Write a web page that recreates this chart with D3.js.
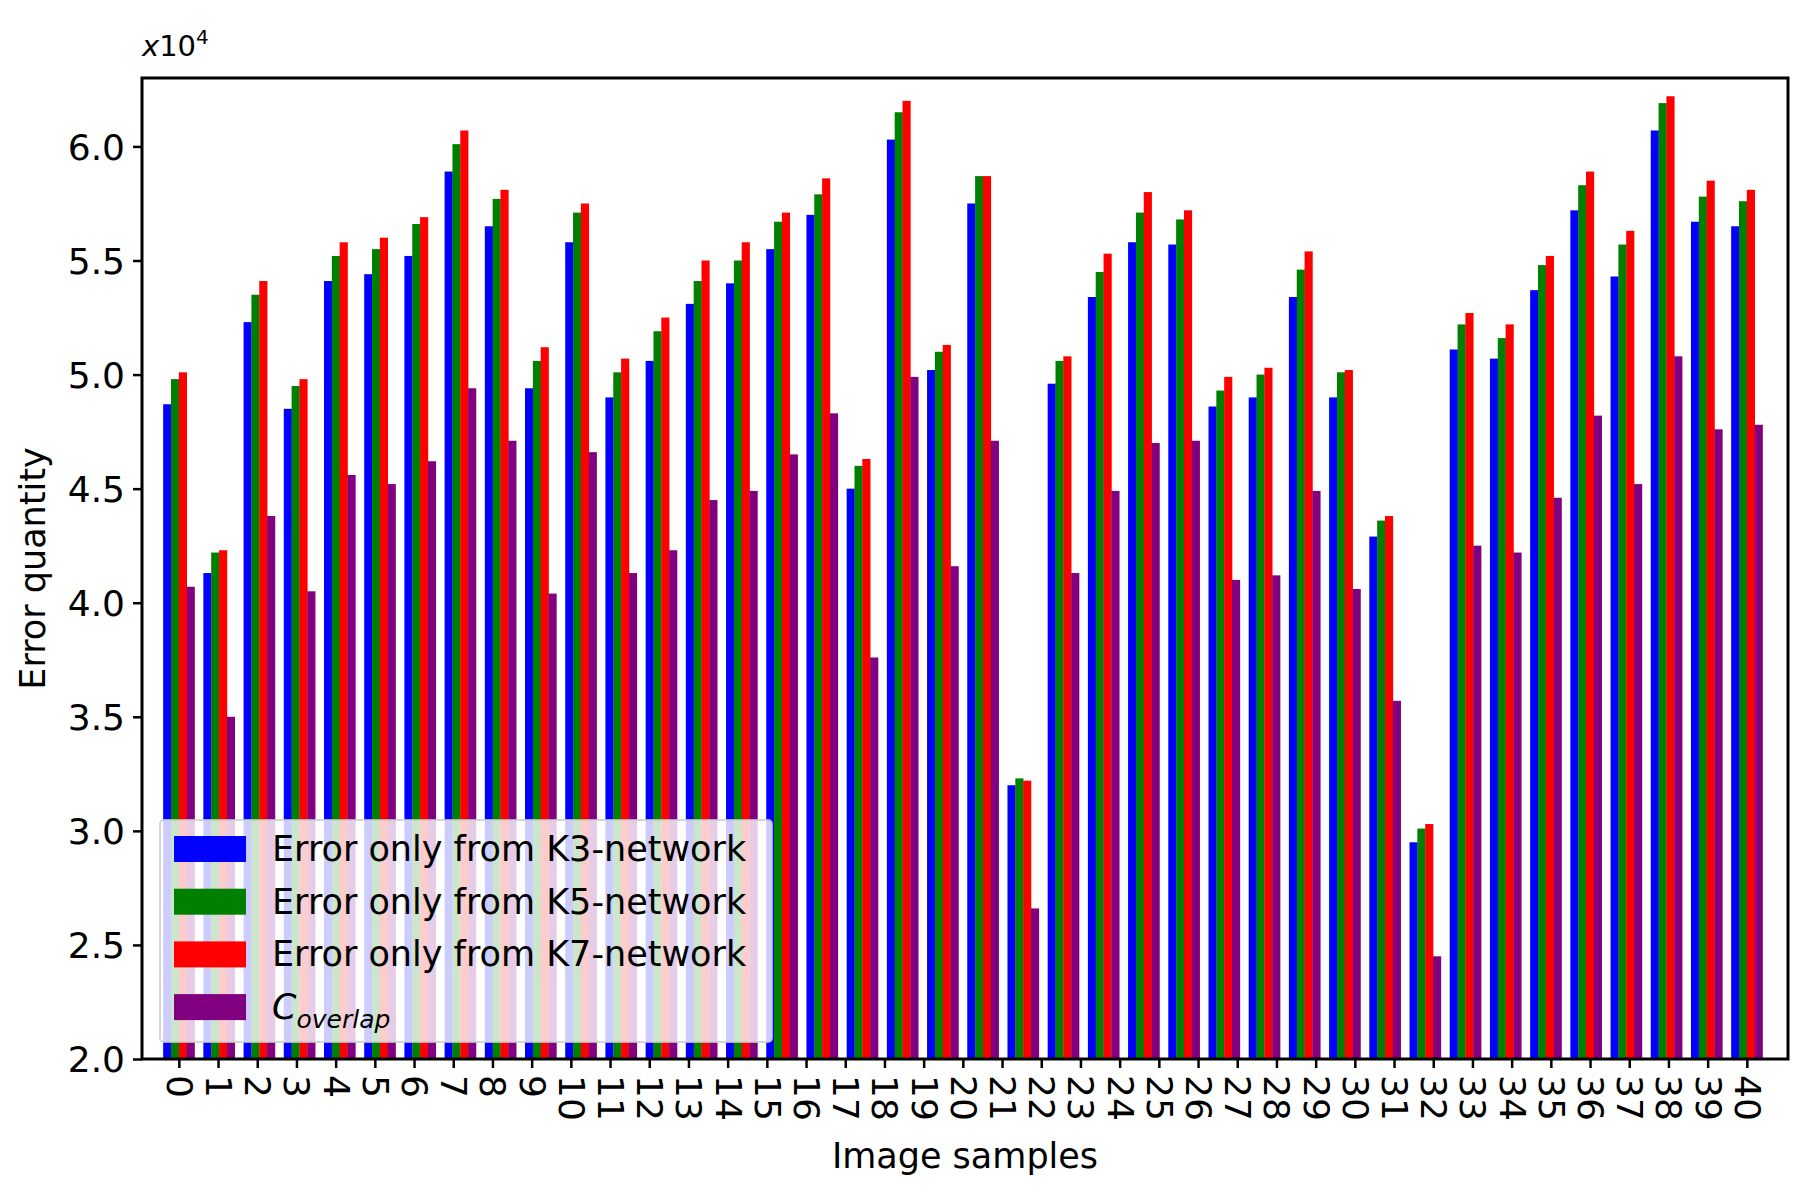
<!DOCTYPE html>
<html><head><meta charset="utf-8">
<script src="https://cdn.jsdelivr.net/npm/d3@7"></script>
<style>body{margin:0;background:#fff}svg{font-family:"DejaVu Sans",sans-serif}</style>
</head><body><svg id="c" width="1812" height="1192"></svg>
<script>
const tickLabels = d3.range(41).map(String);
const k3 = [4.87,4.13,5.23,4.85,5.41,5.44,5.52,5.89,5.65,4.94,5.58,4.90,5.06,5.31,5.40,5.55,5.70,4.50,6.03,5.02,5.75,3.20,4.96,5.34,5.58,5.57,4.86,4.90,5.34,4.90,4.29,2.95,5.11,5.07,5.37,5.72,5.43,6.07,5.67,5.65];
const k5 = [4.98,4.22,5.35,4.95,5.52,5.55,5.66,6.01,5.77,5.06,5.71,5.01,5.19,5.41,5.50,5.67,5.79,4.60,6.15,5.10,5.87,3.23,5.06,5.45,5.71,5.68,4.93,5.00,5.46,5.01,4.36,3.01,5.22,5.16,5.48,5.83,5.57,6.19,5.78,5.76];
const k7 = [5.01,4.23,5.41,4.98,5.58,5.60,5.69,6.07,5.81,5.12,5.75,5.07,5.25,5.50,5.58,5.71,5.86,4.63,6.20,5.13,5.87,3.22,5.08,5.53,5.80,5.72,4.99,5.03,5.54,5.02,4.38,3.03,5.27,5.22,5.52,5.89,5.63,6.22,5.85,5.81];
const overlap = [4.07,3.50,4.38,4.05,4.56,4.52,4.62,4.94,4.71,4.04,4.66,4.13,4.23,4.45,4.49,4.65,4.83,3.76,4.99,4.16,4.71,2.66,4.13,4.49,4.70,4.71,4.10,4.12,4.49,4.06,3.57,2.45,4.25,4.22,4.46,4.82,4.52,5.08,4.76,4.78];
const seriesNames = ["Error only from K3-network","Error only from K5-network","Error only from K7-network","C"];
const colors = ["#0000ff","#008000","#ff0000","#800080"];
const yTicks = [2.0,2.5,3.0,3.5,4.0,4.5,5.0,5.5,6.0];

const svg = d3.select("#c");
const L=142,R=1788,T=78,B=1059;
const x = d3.scaleLinear().domain([-0.94,41.05]).range([L,R]);
const y = d3.scaleLinear().domain([2.0,6.3]).range([B,T]);
const series=[k3,k5,k7,overlap];
const w=0.2;
const g=svg.append("g");
series.forEach((s,si)=>{
  g.selectAll(null).data(s).enter().append("rect")
   .attr("x",(d,i)=>x(i*40/39+(si-2)*w))
   .attr("width",x(w)-x(0)+0.3)
   .attr("y",d=>y(d)).attr("height",d=>y(2)-y(d))
   .attr("fill",colors[si]);
});
const ya=svg.append("g").attr("transform",`translate(${L},0)`)
 .call(d3.axisLeft(y).tickValues(yTicks).tickFormat(d3.format(".1f")).tickSize(9).tickPadding(8));
const xa=svg.append("g").attr("transform",`translate(0,${B})`)
 .call(d3.axisBottom(x).tickValues(d3.range(41)).tickFormat(i=>tickLabels[i]).tickSize(9).tickPadding(8));
[ya,xa].forEach(a=>{a.select(".domain").remove();a.selectAll("line").attr("stroke","#000").attr("stroke-width",2.5);
 a.selectAll("text").attr("font-size",36).attr("fill","#000").attr("font-family","DejaVu Sans");});
ya.selectAll("text").attr("dy","0.36em");
xa.selectAll("text").attr("text-anchor","start").attr("dy","0.35em").attr("x",0).attr("y",0)
 .attr("transform","translate(0,16) rotate(90)");
svg.append("rect").attr("x",L).attr("y",T).attr("width",R-L).attr("height",B-T)
 .attr("fill","none").attr("stroke","#000").attr("stroke-width",3);
svg.append("text").attr("x",L).attr("y",56).attr("font-size",29)
 .html('<tspan font-style="italic">x</tspan>10<tspan dy="-12" font-size="20">4</tspan>');
svg.append("text").attr("transform",`translate(45,${(T+B)/2}) rotate(-90)`).attr("text-anchor","middle")
 .attr("font-size",35).text("Error quantity");
svg.append("text").attr("x",(L+R)/2).attr("y",1168).attr("text-anchor","middle").attr("font-size",35).text("Image samples");
const lg=svg.append("g");
lg.append("rect").attr("x",160).attr("y",820).attr("width",612).attr("height",222).attr("rx",4)
 .attr("fill","#fff").attr("fill-opacity",0.8).attr("stroke","#ccc").attr("stroke-opacity",0.8).attr("stroke-width",2);
seriesNames.forEach((n,i)=>{
  const cy=849+i*52.7;
  lg.append("rect").attr("x",174).attr("y",cy-13).attr("width",72).attr("height",26).attr("fill",colors[i]);
  const t=lg.append("text").attr("x",272).attr("y",cy+12).attr("font-size",35);
  if(i<3) t.text(n);
  else t.html('<tspan font-style="italic">C</tspan><tspan font-style="italic" font-size="25" dy="9">overlap</tspan>');
});
</script></body></html>
